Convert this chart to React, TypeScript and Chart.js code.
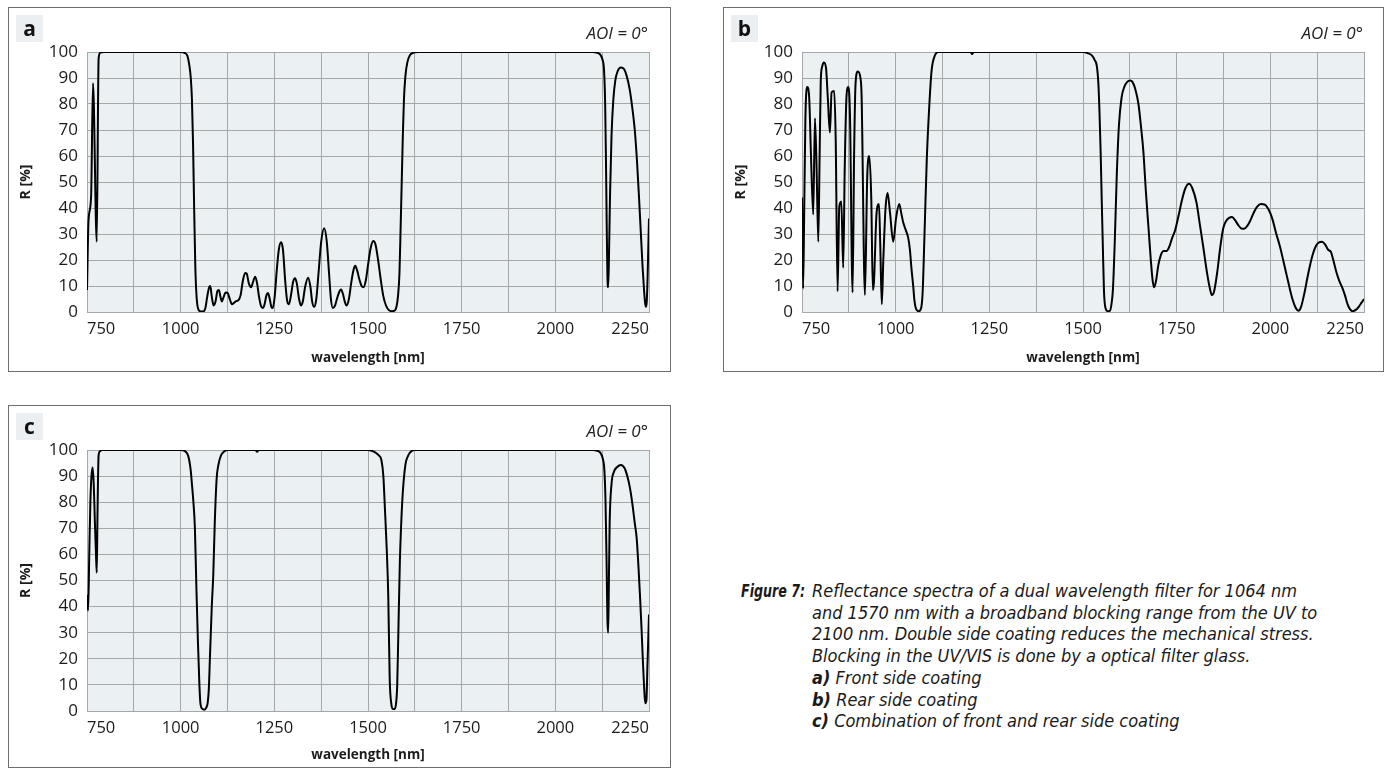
import React, { useEffect, useRef } from 'react';
import { Chart, registerables } from 'chart.js';

Chart.register(...registerables);

// ---------- data ----------
const xTickLabels = [750, 1000, 1250, 1500, 1750, 2000, 2250];
const yTickLabels = [0, 10, 20, 30, 40, 50, 60, 70, 80, 90, 100];

// a) front side coating
const aWavelength = [
  750, 754, 761, 766, 776, 781, 786, 795, 900, 1000, 1010, 1018, 1023, 1027, 1030, 1033, 1036, 1039, 1042, 1046,
  1052, 1060, 1066, 1071, 1076, 1079, 1083, 1088, 1093, 1098, 1102, 1106, 1110, 1114, 1120, 1125, 1131, 1137, 1142, 1148,
  1154, 1160, 1166, 1172, 1176, 1182, 1188, 1193, 1199, 1204, 1209, 1214, 1219, 1224, 1229, 1233, 1237, 1242, 1246, 1251,
  1257, 1262, 1268, 1273, 1279, 1284, 1289, 1295, 1300, 1305, 1310, 1316, 1321, 1326, 1332, 1340, 1346, 1351, 1356, 1362,
  1368, 1375, 1383, 1390, 1396, 1401, 1406, 1412, 1418, 1424, 1428, 1433, 1438, 1443, 1449, 1455, 1461, 1466, 1471, 1477,
  1483, 1488, 1494, 1500, 1507, 1514, 1520, 1527, 1534, 1541, 1548, 1555, 1563, 1571, 1576, 1580, 1584, 1587, 1590, 1593,
  1596, 1600, 1605, 1612, 1620, 1635, 1800, 2000, 2100, 2112, 2120, 2126, 2130, 2133, 2135, 2137, 2139, 2141, 2143, 2146,
  2150, 2155, 2160, 2166, 2175, 2183, 2190, 2198, 2205, 2212, 2218, 2223, 2228, 2233, 2237, 2240, 2242, 2244, 2246, 2248, 2250,
];
const aReflectance = [
  8.5, 35, 44.5, 88, 27, 97.5, 99.8, 100, 100, 100, 99.7, 98.5, 95, 90, 82, 65, 40, 18, 7, 1.5,
  0.3, 0.2, 1.5, 6, 9.5, 10, 6, 2.5, 4, 8, 8.5, 6, 4, 5.5, 7.5, 7.4, 5, 3, 3.5, 4.2,
  4.5, 6.5, 12, 15, 14.8, 11, 9.5, 11.5, 13.6, 11, 6, 2.5, 1.5, 3, 6.5, 7.3, 5.5, 2, 1.5, 6,
  17, 24, 26.8, 24, 12, 4.5, 3, 7, 11.5, 13, 11, 5, 2.5, 4, 9.5, 13.2, 10, 4, 2, 5,
  15, 27, 32.2, 27, 15, 5, 1.5, 2.5, 5.5, 8, 8.7, 7, 4, 2.5, 5, 11, 16, 17.8, 16, 12.5,
  10, 9.5, 12, 18, 24.5, 27.3, 26, 20, 12.5, 6, 2.5, 0.8, 0.3, 0.5, 2, 6, 15, 32, 50, 68,
  82, 91, 96, 98.8, 99.7, 100, 100, 100, 100, 99.7, 99, 97, 93, 80, 60, 35, 14, 9.5, 20, 45,
  68, 82, 89, 92.5, 94, 93.5, 91, 86, 79, 70, 58, 45, 31, 17, 8, 3, 2, 4, 12, 24, 36,
];

// b) rear side coating
const bWavelength = [
  750, 753, 756, 759, 764, 769, 774, 780, 784.5, 789, 793.5, 797, 800, 804, 808.5, 814, 819, 824.5, 829, 836,
  840, 845, 849.5, 855, 860, 864, 869, 873.5, 878, 885, 889, 893, 899, 906, 909, 918, 924, 929.5, 935, 939,
  942, 949, 955.5, 959, 963, 967, 973, 978.5, 985, 993.5, 1001, 1009.5, 1015, 1020, 1027, 1033.5, 1038, 1042, 1047, 1050,
  1055, 1062, 1068, 1072, 1077, 1083, 1090, 1096, 1105, 1114, 1200, 1204, 1208, 1400, 1500, 1512, 1523, 1531, 1537, 1541,
  1544, 1547, 1550, 1553, 1556, 1560, 1566, 1572, 1576, 1580, 1585, 1590, 1596, 1603, 1610, 1618, 1626, 1632, 1640, 1648,
  1655, 1661, 1668, 1675, 1681, 1686, 1690, 1695, 1701, 1708, 1715, 1723, 1730, 1738, 1746, 1755, 1764, 1773, 1783, 1792,
  1803, 1812, 1821, 1830, 1838, 1844, 1850, 1858, 1866, 1874, 1882, 1890, 1898, 1906, 1914, 1922, 1930, 1938, 1946, 1955,
  1965, 1975, 1985, 1995, 2005, 2015, 2026, 2035, 2045, 2053, 2060, 2067, 2075, 2082, 2092, 2098, 2106, 2114, 2122, 2130,
  2138, 2146, 2154, 2162, 2168, 2176, 2184, 2193, 2199, 2206, 2213, 2220, 2228, 2236, 2243, 2250,
];
const bReflectance = [
  44, 9, 40, 74, 86.5, 83, 60, 37.5, 74.5, 55, 27, 60, 88.5, 94.5, 96, 94, 82, 69, 84.5, 85,
  66, 8, 40.5, 42.5, 17, 55, 83.5, 86.5, 76, 7.5, 60, 88, 92.5, 90, 83.5, 6.5, 51.5, 60, 43, 8.5,
  11.5, 38, 41.5, 25, 3, 20, 40, 45.8, 38, 27, 36, 41.5, 38, 34.5, 31.5, 28.5, 24, 17, 9.7, 4.6,
  1, 0.3, 1.5, 7.6, 30, 58.5, 80, 93, 98.8, 100, 100, 99.2, 100, 100, 100, 99.6, 98.8, 97, 94.5, 88,
  77, 62, 43, 25, 8, 1.5, 0.3, 0.5, 3, 9, 28, 52, 72, 82.5, 86.5, 88.5, 89, 88.5, 85.5, 80,
  71, 62, 46, 32, 20, 12, 9.5, 12, 18, 22, 23.5, 23.5, 25, 28.5, 31.5, 37, 43, 47.5, 49.3, 47.5,
  42, 33.5, 25, 16, 9.5, 6.5, 8, 15, 24.5, 32, 35, 36.2, 36.5, 35.3, 33.5, 32.2, 32, 33, 35, 38,
  40.5, 41.5, 41.3, 39.5, 36, 30.5, 25, 19.5, 13.3, 8.3, 4.5, 1.8, 0.5, 2, 8, 12.5, 18, 22.5, 25.5, 26.8,
  27, 26, 24, 23, 20, 15.5, 12, 9, 6.5, 3, 1, 0.3, 0.8, 2, 3.5, 5,
];

// c) combination of front and rear side coating
const cWavelength = [
  750, 753, 756, 759, 762, 765, 768, 771, 774, 776, 778, 781, 785, 790, 900, 1000, 1011, 1018, 1023, 1027,
  1030, 1034, 1038, 1042, 1046, 1050, 1053, 1058, 1063, 1068, 1072, 1075, 1078, 1083, 1087, 1091, 1096, 1101, 1108, 1116,
  1127, 1200, 1204, 1208, 1400, 1500, 1510, 1520, 1528, 1536, 1541, 1545, 1550, 1554, 1558, 1562, 1566, 1571, 1575, 1578,
  1581, 1585, 1589, 1593, 1600, 1606, 1612, 1625, 1800, 2000, 2100, 2112, 2120, 2126, 2131, 2134, 2137, 2139, 2141, 2143,
  2145, 2150, 2156, 2165, 2175, 2185, 2192, 2199, 2206, 2212, 2217, 2222, 2226, 2230, 2234, 2237, 2240, 2243, 2246, 2250,
];
const cReflectance = [
  44.5, 38.5, 60, 80, 90, 93.3, 87, 72.5, 60, 53, 75, 98, 99.6, 100, 100, 100, 99.6, 98.5, 96, 92,
  87, 80, 70, 47, 27, 10, 2.5, 0.8, 0.5, 1.2, 3, 8, 20, 40, 52, 72, 89, 94.5, 98, 99.4,
  100, 100, 99.3, 100, 100, 100, 99.7, 99, 98, 96, 90, 78, 62, 44.6, 12, 3, 0.8, 0.8, 3, 10,
  30, 57, 73, 84, 94.5, 97.5, 99, 100, 100, 100, 100, 99.7, 99, 97, 92, 80, 55, 35, 30, 50,
  72, 87, 91.5, 93.5, 94.3, 93, 90, 85.6, 79, 72, 66.4, 55, 44, 31.8, 18, 9, 3, 4, 18, 37,
];

// ---------- styling ----------
const SANS = "'Open Sans', 'DejaVu Sans', sans-serif";
const CAPTION = "'Liberation Sans Narrow', 'DejaVu Sans Condensed', 'Open Sans', sans-serif";
const GRID = '#a5a8a9';
const PLOT_BG = '#ebf0f3';
const TEXT = '#1b1b1b';

type PanelProps = {
  left: number;
  top: number;
  width: number;
  height: number;
  plotBottom: number;
  titleBottomPad: number;
  letter: string;
  wavelength: number[];
  reflectance: number[];
};

const bgPlugin = {
  id: 'plotBg',
  beforeDraw(chart: any) {
    const { ctx, chartArea } = chart;
    if (!chartArea) return;
    ctx.save();
    ctx.fillStyle = PLOT_BG;
    ctx.fillRect(chartArea.left, chartArea.top, chartArea.right - chartArea.left, chartArea.bottom - chartArea.top);
    ctx.restore();
  },
};

function Panel(p: PanelProps) {
  const ref = useRef<HTMLCanvasElement>(null);
  const plotLeft = 79;
  const plotTop = 45;
  const plotWidth = 562;
  useEffect(() => {
    if (!ref.current) return;
    const chart = new Chart(ref.current, {
      type: 'line',
      data: {
        datasets: [
          {
            data: p.wavelength.map((x, i) => ({ x, y: p.reflectance[i] })),
            borderColor: '#000000',
            borderWidth: 2,
            pointRadius: 0,
            fill: false,
            cubicInterpolationMode: 'monotone',
          },
        ],
      },
      options: {
        animation: false,
        responsive: false,
        maintainAspectRatio: false,
        events: [],
        layout: {
          padding: { left: 0, top: plotTop, right: p.width - plotLeft - plotWidth, bottom: 0 },
        },
        plugins: { legend: { display: false }, tooltip: { enabled: false } },
        scales: {
          x: {
            type: 'linear',
            min: 750,
            max: 2250,
            ticks: {
              stepSize: 125,
              autoSkip: false,
              maxRotation: 0,
              align: 'inner',
              padding: 7,
              color: TEXT,
              font: { family: SANS, size: 16.5 },
              callback: (v: any) => (xTickLabels.includes(Number(v)) ? String(v) : ''),
            },
            grid: { color: GRID, lineWidth: 1, drawTicks: false },
            border: { display: true, color: GRID, width: 1 },
            title: {
              display: true,
              text: 'wavelength [nm]',
              color: TEXT,
              font: { family: SANS, size: 13.5, weight: 'bold' },
              padding: { top: 0, bottom: p.titleBottomPad },
            },
            afterFit: (s: any) => {
              s.height = p.height - p.plotBottom;
            },
          },
          y: {
            type: 'linear',
            min: 0,
            max: 100,
            ticks: {
              stepSize: 10,
              padding: 9,
              color: TEXT,
              font: { family: SANS, size: 17 },
              callback: (v: any) => (yTickLabels.includes(Number(v)) ? String(v) : ''),
            },
            grid: { color: GRID, lineWidth: 1, drawTicks: false },
            border: { display: true, color: GRID, width: 1 },
            title: {
              display: true,
              text: 'R [%]',
              color: TEXT,
              font: { family: SANS, size: 14, weight: 'bold' },
              padding: { top: 10, bottom: 0 },
            },
            afterFit: (s: any) => {
              s.width = plotLeft;
            },
          },
        },
      },
      plugins: [bgPlugin],
    } as any);
    return () => chart.destroy();
  }, []);

  return (
    <div style={{ position: 'absolute', left: p.left, top: p.top, width: p.width, height: p.height }}>
      <canvas
        ref={ref}
        width={p.width}
        height={p.height}
        style={{ position: 'absolute', left: 0, top: 0, width: p.width, height: p.height }}
      />
      <div
        style={{
          position: 'absolute',
          left: 0,
          top: 0,
          width: p.width,
          height: p.height,
          boxSizing: 'border-box',
          border: '1px solid #6e6e6e',
          pointerEvents: 'none',
        }}
      />
      <div
        style={{
          position: 'absolute',
          left: 8,
          top: 8,
          width: 27,
          height: 27,
          background: '#eceff1',
          fontFamily: SANS,
          fontWeight: 700,
          fontSize: 21,
          lineHeight: '26px',
          textAlign: 'center',
          color: '#111',
        }}
      >
        {p.letter}
      </div>
      <div
        style={{
          position: 'absolute',
          left: 400,
          width: 240,
          top: 15,
          height: 22,
          lineHeight: '22px',
          textAlign: 'right',
          fontFamily: SANS,
          fontStyle: 'italic',
          fontSize: 17,
          color: '#222',
          whiteSpace: 'nowrap',
        }}
      >
        AOI = 0°
      </div>
    </div>
  );
}

const captionLines = [
  'Reflectance spectra of a dual wavelength filter for 1064 nm',
  'and 1570 nm with a broadband blocking range from the UV to',
  '2100 nm. Double side coating reduces the mechanical stress.',
  'Blocking in the UV/VIS is done by a optical filter glass.',
];
const captionItems = [
  ['a)', 'Front side coating'],
  ['b)', 'Rear side coating'],
  ['c)', 'Combination of front and rear side coating'],
];

export default function App() {
  const lh = 21.7;
  return (
    <div
      style={{
        position: 'absolute',
        left: 0,
        top: 0,
        width: 1391,
        height: 769,
        background: '#ffffff',
        overflow: 'hidden',
      }}
    >
      <Panel left={8} top={7} width={663} height={365} plotBottom={305} titleBottomPad={6}
        letter="a" wavelength={aWavelength} reflectance={aReflectance} />
      <Panel left={723} top={7} width={661} height={365} plotBottom={305} titleBottomPad={6}
        letter="b" wavelength={bWavelength} reflectance={bReflectance} />
      <Panel left={8} top={405} width={663} height={363} plotBottom={306} titleBottomPad={5}
        letter="c" wavelength={cWavelength} reflectance={cReflectance} />
      <div
        style={{
          position: 'absolute',
          left: 741,
          top: 580,
          fontFamily: CAPTION,
          fontStyle: 'italic',
          fontSize: 18,
          lineHeight: lh + 'px',
          color: '#1a1a1a',
          fontWeight: 700,
          whiteSpace: 'nowrap',
          transform: 'scaleX(0.78)',
          transformOrigin: 'left top',
        }}
      >
        Figure 7:
      </div>
      <div
        style={{
          position: 'absolute',
          left: 812,
          top: 580,
          fontFamily: CAPTION,
          fontStyle: 'italic',
          fontSize: 18,
          lineHeight: lh + 'px',
          color: '#1a1a1a',
          whiteSpace: 'nowrap',
        }}
      >
        {captionLines.map((t, i) => (
          <div key={'l' + i}>{t}</div>
        ))}
        {captionItems.map(([k, t], i) => (
          <div key={'i' + i}>
            <b>{k}</b> {t}
          </div>
        ))}
      </div>
    </div>
  );
}
